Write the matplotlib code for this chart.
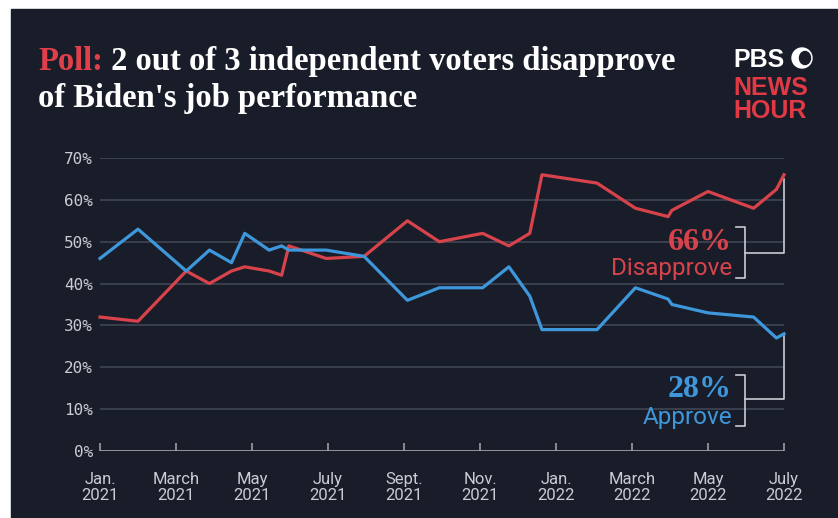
import matplotlib
matplotlib.use("Agg")
import matplotlib.pyplot as plt
from matplotlib.patches import Rectangle, Ellipse

# months since Jan. 2021 for each poll
months = [0, 1.0, 2.27, 2.88, 3.46, 3.81, 4.45, 4.78, 4.97, 5.95, 6.95,
          8.09, 8.93, 10.07, 10.76, 11.31, 11.63, 13.08, 14.09, 14.95,
          15.05, 16.0, 17.2, 17.8, 18.0]
disapprove = [32, 31, 43, 40, 43, 44, 43, 42, 49, 46, 46.5,
              55, 50, 52, 49, 52, 66, 64, 58, 56,
              57.5, 62, 58, 62.5, 66]
approve = [46, 53, 43, 48, 45, 52, 48, 49, 48, 48, 46.5,
           36, 39, 39, 44, 37, 29, 29, 39, 36.3,
           35, 33, 32, 27, 28]

tick_pos = [0, 2, 4, 6, 8, 10, 12, 14, 16, 18]
tick_lbl = ["Jan.\n2021", "March\n2021", "May\n2021", "July\n2021", "Sept.\n2021",
            "Nov.\n2021", "Jan.\n2022", "March\n2022", "May\n2022", "July\n2022"]
y_pos = [0, 10, 20, 30, 40, 50, 60, 70]
y_lbl = ["0%", "10%", "20%", "30%", "40%", "50%", "60%", "70%"]

BG = "#181d29"
RED = "#d8434b"
BLUE = "#3f97db"
GRID = "#434956"
LIGHT = "#c9ccd3"

W, H = 838, 518


def px(x, y):
    return x / W, 1 - y / H


fig = plt.figure(figsize=(W / 100, H / 100), dpi=100, facecolor="white")
fig.patches.append(Rectangle(px(11, H), (W - 11) / W, (H - 9) / H,
                             transform=fig.transFigure, color=BG, zorder=-10))

ax = fig.add_axes([100 / W, 1 - 451 / H, 684 / W, 293 / H])
ax.set_zorder(1)
ax.set_facecolor("none")
ax.set_xlim(0, 18)
ax.set_ylim(0, 70)
for s in ax.spines.values():
    s.set_visible(False)

ax.set_yticks(y_pos)
ax.set_yticklabels(y_lbl, family="DejaVu Sans Mono", fontsize=11.5, color=LIGHT)
ax.tick_params(axis="y", length=0, pad=5)
for y in y_pos[1:]:
    ax.axhline(y, color=GRID, lw=1.1, zorder=1)
ax.axhline(0, color="#9a9ea7", lw=1.3, zorder=1)

ax.set_xticks(tick_pos)
ax.set_xticklabels(tick_lbl, family="Roboto", fontsize=12, color=LIGHT,
                   linespacing=1.1)
ax.tick_params(axis="x", direction="in", length=6, width=1.2, color="#9a9ea7", pad=15)

ax.plot(months, disapprove, color=RED, lw=2.3, zorder=3, clip_on=False)
ax.plot(months, approve, color=BLUE, lw=2.3, zorder=3, clip_on=False)

# brackets on the right
bk = dict(color=LIGHT, lw=1.2, clip_on=False, zorder=2)
ax.plot([18, 18, 16.97], [65.0, 47.3, 47.3], **bk)
ax.plot([16.74, 16.97, 16.97, 16.74], [53.5, 53.5, 41.3, 41.3], **bk)
ax.plot([18, 18, 16.97], [27.5, 12.4, 12.4], **bk)
ax.plot([16.74, 16.97, 16.97, 16.74], [18.2, 18.2, 6.0, 6.0], **bk)

ax.text(16.63, 49.7, "66%", color=RED, family="Liberation Serif", weight="bold",
        fontsize=23, ha="right", va="center")
ax.text(16.63, 43.5, "Disapprove", color=RED, family="Roboto", fontsize=17.5,
        ha="right", va="center")
ax.text(16.63, 14.6, "28%", color=BLUE, family="Liberation Serif", weight="bold",
        fontsize=23, ha="right", va="center")
ax.text(16.63, 7.9, "Approve", color=BLUE, family="Roboto", fontsize=17.5,
        ha="right", va="center")

# title
t1 = fig.text(*px(38, 70), "Poll:", color="#e0404a", family="Liberation Serif",
              weight="bold", fontsize=23.5, va="baseline")
ax.annotate(" 2 out of 3 independent voters disapprove", xy=(1, 0), xycoords=t1,
            color="white", family="Liberation Serif", weight="bold", fontsize=23.5,
            va="bottom", ha="left", annotation_clip=False)
fig.text(*px(38, 107), "of Biden's job performance", color="white",
         family="Liberation Serif", weight="bold", fontsize=23.5, va="baseline")

# logo
logo = dict(family="Liberation Sans", weight="heavy", fontsize=18, va="baseline")
fig.text(*px(733, 67), "PBS", color="white", **logo)
fig.text(*px(733, 95), "NEWS", color="#e23a44", **logo)
fig.text(*px(733, 118), "HOUR", color="#e23a44", **logo)
fig.patches.append(Ellipse(px(802, 58), 20 / W, 20 / H, transform=fig.transFigure,
                           color="white", zorder=2))
fig.patches.append(Ellipse(px(805, 58), 11 / W, 13 / H, transform=fig.transFigure,
                           color=BG, zorder=3))

fig.savefig("out.png", dpi=100, facecolor="white")
